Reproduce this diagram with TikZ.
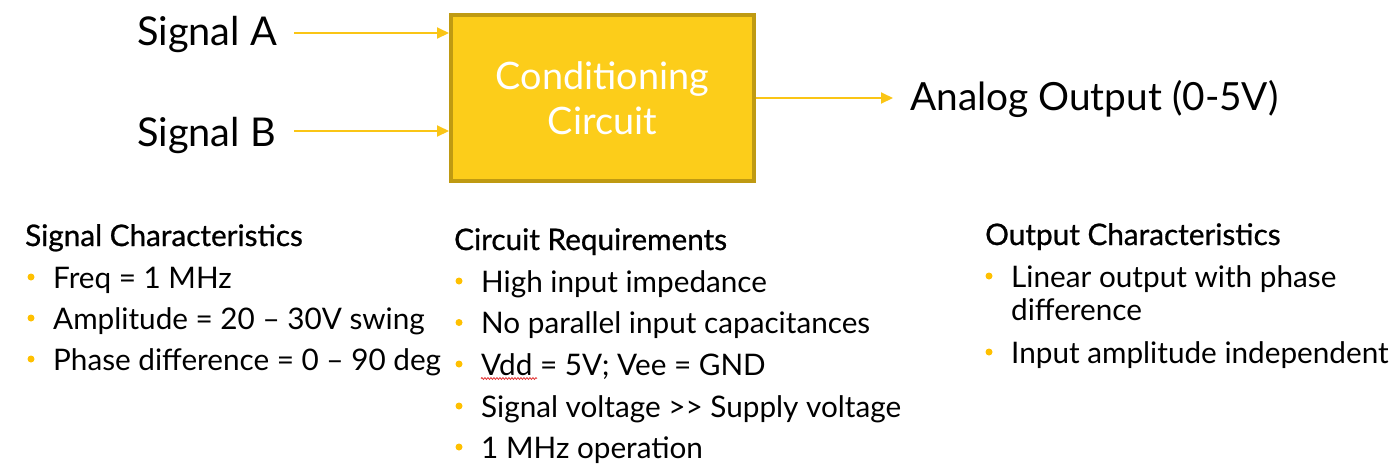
\documentclass[tikz,border=0pt]{standalone}
\usepackage{fontspec}
\setmainfont{Lato}
\newfontfamily\headfont[FakeBold=0.8]{Lato}
\usetikzlibrary{arrows.meta,decorations.pathmorphing}
\definecolor{boxfill}{HTML}{FCCD1A}
\definecolor{boxline}{HTML}{BF9A12}
\definecolor{arrc}{HTML}{FAC515}
\definecolor{bulc}{HTML}{FFC000}
\definecolor{squig}{HTML}{E03030}
\begin{document}
\begin{tikzpicture}[x=1pt,y=-1pt,
  bigtxt/.style={anchor=base west,inner sep=0pt,font=\fontsize{39.7}{46}\selectfont},
  body/.style={anchor=base west,inner sep=0pt,font=\fontsize{29.7}{36}\selectfont},
  head/.style={anchor=base west,inner sep=0pt,font=\headfont\fontsize{29.7}{36}\selectfont},
  bul/.style={circle,fill=bulc,minimum size=7pt,inner sep=0pt},
  arr/.style={draw=arrc,line width=2pt,-{Triangle[length=12pt,width=11pt]}},
  mainbox/.style={draw=boxline,line width=4pt,fill=boxfill,minimum width=303pt,minimum height=166pt,
    text=white,align=center,font=\fontsize{37.8}{45}\selectfont}
]
\useasboundingbox (0,0) rectangle (1392,467);
% top part
\node[mainbox] (box) at (602.5,98) {Conditioning\\Circuit};
\node[bigtxt] (sa) at (137,45) {Signal A};
\node[bigtxt] (sb) at (137,146) {Signal B};
\node[bigtxt,font=\fontsize{38.8}{46}\selectfont] (out) at (910,110) {Analog Output (0-5V)};
\coordinate (a0) at (294,33);
\coordinate (b0) at (294,131);
\coordinate (o1) at (893,98);
\draw[arr] (a0) -- (box.west |- a0);
\draw[arr] (b0) -- (box.west |- b0);
\draw[arr] (box.east |- o1) -- (o1);
% Signal characteristics
\node[head] (h1) at (25,246) {Signal Characteristics};
\node[bul] (s1b) at (31,277) {}; \node[body] (s1) at (53,288) {Freq = 1 MHz};
\node[bul] (s2b) at (31,318) {}; \node[body] (s2) at (53,329) {Amplitude = 20 – 30V swing};
\node[bul] (s3b) at (31,359) {}; \node[body] (s3) at (53,370) {Phase difference = 0 – 90 deg};
% Circuit requirements
\node[head] (h2) at (454,250) {Circuit Requirements};
\node[bul] (c1b) at (459,281) {}; \node[body] (c1) at (481,292) {High input impedance};
\node[bul] (c2b) at (459,322.5) {}; \node[body] (c2) at (481,333.5) {No parallel input capacitances};
\node[bul] (c3b) at (459,364) {}; \node[body] (c3) at (481,375) {Vdd = 5V; Vee = GND};
\node[bul] (c4b) at (459,406) {}; \node[body] (c4) at (481,417) {Signal voltage >{}> Supply voltage};
\node[bul] (c5b) at (459,447) {}; \node[body] (c5) at (481,458) {1 MHz operation};
\draw[squig,line width=0.8pt,decorate,decoration={snake,amplitude=0.9pt,segment length=3pt}] (481,378.5) -- (537,378.5);
% Output characteristics
\node[head] (h3) at (985,245) {Output Characteristics};
\node[bul] (o1b) at (989,276) {}; \node[body] (oc1) at (1011,287) {Linear output with phase};
\node[body] (oc1b) at (1011,320) {difference};
\node[bul] (o2b) at (989,352) {}; \node[body] (oc2) at (1011,363) {Input amplitude independent};
\end{tikzpicture}
\end{document}
